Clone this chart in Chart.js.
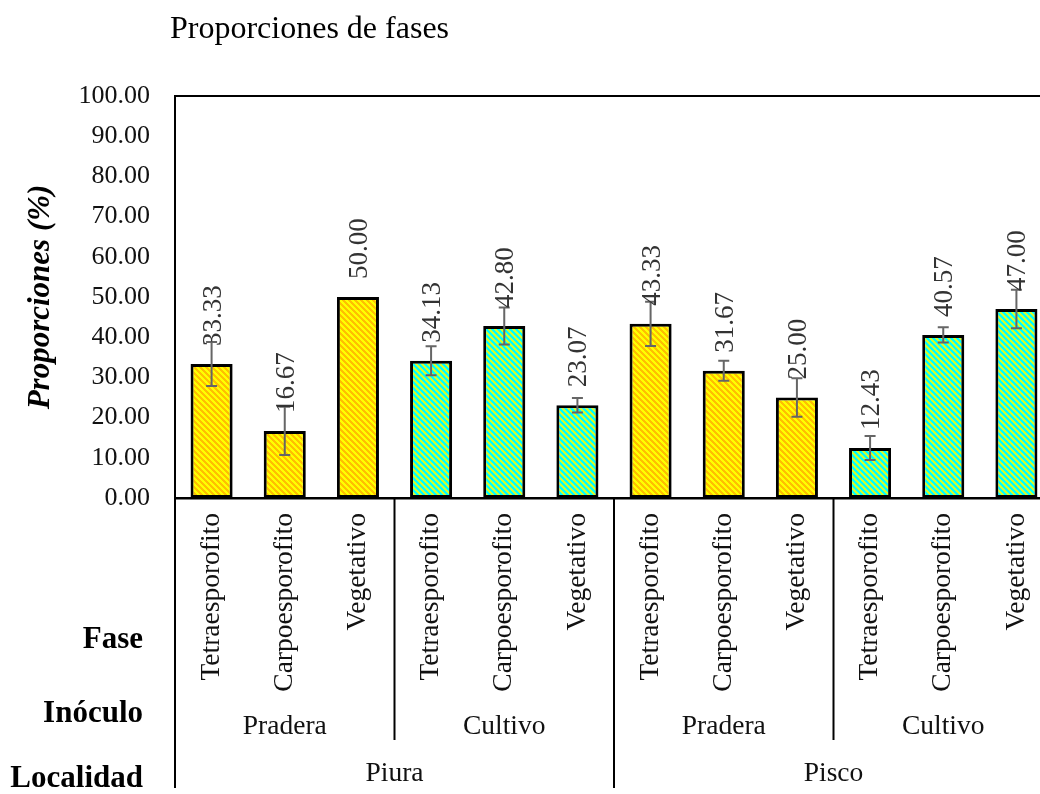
<!DOCTYPE html>
<html>
<head>
<meta charset="utf-8">
<title>Proporciones de fases</title>
<script src="https://cdn.jsdelivr.net/npm/chart.js@4.4.1/dist/chart.umd.min.js"></script>
<style>
  html, body { margin: 0; padding: 0; background: #fff; width: 1040px; height: 794px; overflow: hidden; }
  canvas { display: block; }
</style>
</head>
<body>
<canvas id="chart" width="1100" height="794"></canvas>
<script>
// Phases shown inside every inoculum group
const fases = ['Tetraesporofito', 'Carpoesporofito', 'Vegetativo'];
// Inoculum groups, left to right (each holds the three phases)
const inoculos = ['Pradera', 'Cultivo', 'Pradera', 'Cultivo'];
// Localities, each holding two inoculum groups
const localidades = ['Piura', 'Pisco'];
// Mean proportion (%) per bar, left to right
const proporciones = [33.33, 16.67, 50.00, 34.13, 42.80, 23.07, 43.33, 31.67, 25.00, 12.43, 40.57, 47.00];
// Error (± %) per bar
const errores = [5.5, 6.0, 0, 3.6, 4.6, 1.8, 5.5, 2.5, 4.8, 3.0, 1.9, 4.8];
// Y axis range and step
const yMin = 0, yMax = 100, yStep = 10;

const SERIF = '"Liberation Serif", "Times New Roman", serif';
const perInoculo = fases.length;
const perLocalidad = inoculos.length / localidades.length * perInoculo;

// one category per bar
const labels = [];
const inoculoDeBarra = [];
inoculos.forEach(ino => fases.forEach(f => { labels.push(f); inoculoDeBarra.push(ino); }));

// diagonal two-colour hatch fills
function hatch(c1, c2) {
  const size = 6;
  const cv = document.createElement('canvas');
  cv.width = size; cv.height = size;
  const g = cv.getContext('2d');
  for (let y = 0; y < size; y++) {
    for (let x = 0; x < size; x++) {
      g.fillStyle = (((x - y) % size) + size) % size < 3 ? c1 : c2;
      g.fillRect(x, y, 1, 1);
    }
  }
  return g.createPattern(cv, 'repeat');
}
const rellenos = {
  Pradera: hatch('#FFC000', '#FFFF00'),
  Cultivo: hatch('#00FFFF', '#CCFF33')
};

const decor = {
  id: 'decor',
  afterDatasetsDraw(chart) {
    const { ctx, scales: { y } } = chart;
    const meta = chart.getDatasetMeta(0);
    ctx.save();
    // error bars
    ctx.strokeStyle = '#666';
    ctx.lineWidth = 2;
    meta.data.forEach((bar, i) => {
      const e = errores[i];
      if (!e) return;
      const cx = bar.x;
      const yTop = y.getPixelForValue(proporciones[i] + e);
      const yBot = y.getPixelForValue(proporciones[i] - e);
      ctx.beginPath();
      ctx.moveTo(cx, yTop); ctx.lineTo(cx, yBot);
      ctx.moveTo(cx - 5.5, yTop); ctx.lineTo(cx + 5.5, yTop);
      ctx.moveTo(cx - 5.5, yBot); ctx.lineTo(cx + 5.5, yBot);
      ctx.stroke();
    });
    // value labels, rotated
    ctx.fillStyle = '#333';
    ctx.font = '27px ' + SERIF;
    ctx.textAlign = 'left';
    ctx.textBaseline = 'alphabetic';
    meta.data.forEach((bar, i) => {
      ctx.save();
      ctx.translate(bar.x, y.getPixelForValue(proporciones[i]) - 18);
      ctx.rotate(-Math.PI / 2);
      ctx.fillText(proporciones[i].toFixed(2), 0, 9);
      ctx.restore();
    });
    ctx.restore();
  },
  afterDraw(chart) {
    const { ctx, chartArea: a, scales: { x } } = chart;
    ctx.save();
    ctx.strokeStyle = '#000';
    ctx.lineWidth = 2;
    // plot frame: top and right edges
    ctx.beginPath();
    ctx.moveTo(a.left, a.top); ctx.lineTo(a.right, a.top); ctx.lineTo(a.right, a.bottom);
    ctx.stroke();

    const innerEnd = 740, outerEnd = 788;
    const edge = i => i === 0 ? a.left : (i === labels.length ? a.right
      : (x.getPixelForValue(i - 1) + x.getPixelForValue(i)) / 2);

    // group separators under the axis
    for (let i = 0; i <= labels.length; i++) {
      let end = null;
      if (i % perLocalidad === 0) end = outerEnd;
      else if (i % perInoculo === 0) end = innerEnd;
      if (end === null) continue;
      const px = edge(i);
      ctx.beginPath();
      ctx.moveTo(px, a.bottom); ctx.lineTo(px, end);
      ctx.stroke();
    }

    // group captions
    ctx.fillStyle = '#111';
    ctx.textAlign = 'center';
    ctx.textBaseline = 'alphabetic';
    ctx.font = '27.5px ' + SERIF;
    inoculos.forEach((name, g) => {
      const cx = (edge(g * perInoculo) + edge((g + 1) * perInoculo)) / 2;
      ctx.fillText(name, cx, 734);
    });
    localidades.forEach((name, g) => {
      const cx = (edge(g * perLocalidad) + edge((g + 1) * perLocalidad)) / 2;
      ctx.fillText(name, cx, 781);
    });

    // row headers
    ctx.fillStyle = '#000';
    ctx.textAlign = 'right';
    ctx.font = 'bold 31px ' + SERIF;
    ctx.fillText('Fase', 143, 648);
    ctx.fillText('Inóculo', 143, 722);
    ctx.fillText('Localidad', 143, 787);

    // title
    ctx.textAlign = 'left';
    ctx.font = '32px ' + SERIF;
    ctx.fillText('Proporciones de fases', 170, 38);
    ctx.restore();
  }
};

new Chart(document.getElementById('chart'), {
  type: 'bar',
  data: {
    labels: labels,
    datasets: [{
      data: proporciones,
      backgroundColor: inoculoDeBarra.map(n => rellenos[n]),
      borderColor: '#000',
      borderWidth: 3,
      borderSkipped: false,
      categoryPercentage: 0.575,
      barPercentage: 1
    }]
  },
  options: {
    responsive: false,
    animation: false,
    events: [],
    layout: { padding: { top: 96, left: 0, right: 47, bottom: 0 } },
    plugins: { legend: { display: false }, tooltip: { enabled: false }, title: { display: false } },
    scales: {
      x: {
        grid: { display: false, drawTicks: false },
        border: { display: true, color: '#000', width: 2.5 },
        ticks: {
          autoSkip: false, minRotation: 90, maxRotation: 90, padding: 15,
          color: '#111', font: { family: SERIF, size: 27.5 }
        },
        afterFit(s) { s.height = 296; }
      },
      y: {
        min: yMin, max: yMax,
        grid: { display: false, drawTicks: false },
        border: { display: true, color: '#000', width: 2 },
        ticks: {
          stepSize: yStep, padding: 25, color: '#111',
          font: { family: SERIF, size: 26 },
          callback: v => Number(v).toFixed(2)
        },
        title: {
          display: true, text: 'Proporciones (%)', color: '#000',
          font: { family: SERIF, size: 31, weight: 'bold', style: 'italic' },
          padding: { top: 22, bottom: 0 }
        },
        afterFit(s) { s.width = 175; }
      }
    }
  },
  plugins: [decor]
});
</script>
</body>
</html>
